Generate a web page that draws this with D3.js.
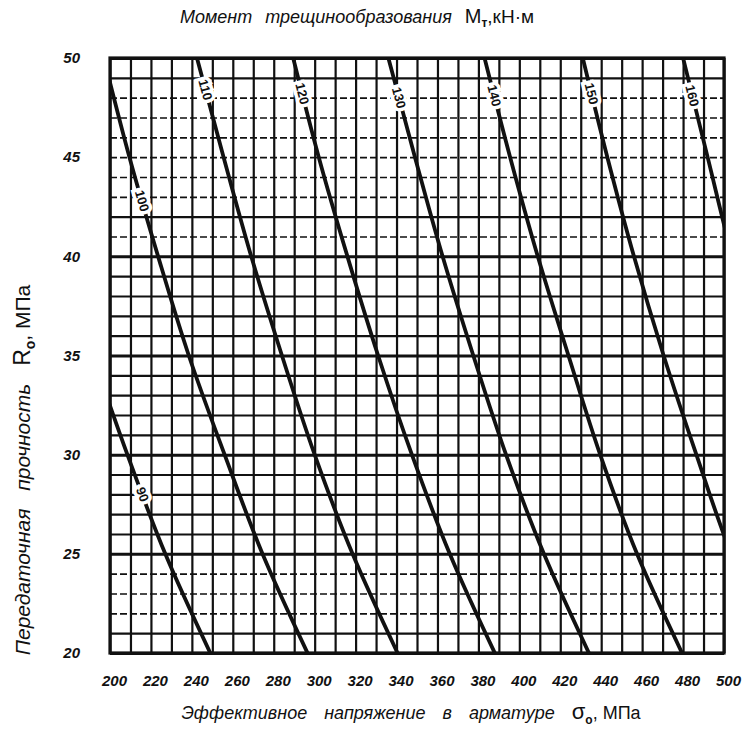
<!DOCTYPE html>
<html><head><meta charset="utf-8">
<script src="https://cdn.jsdelivr.net/npm/d3@7"></script>
<style>body{margin:0;background:#fff}</style>
</head><body>
<svg id="c" width="749" height="730"></svg>
<script>
// ---- data ----
const sigmaTicks = [200,220,240,260,280,300,320,340,360,380,400,420,440,460,480,500];
const rTicks = [20,25,30,35,40,45,50];
const sigmaGrid = [200,210,220,230,240,250,260,270,280,290,300,310,320,330,340,350,360,370,380,390,400,410,420,430,440,450,460,470,480,490,500];
const rGrid = [20,21,22,23,24,25,26,27,28,29,30,31,32,33,34,35,36,37,38,39,40,41,42,43,44,45,46,47,48,49,50];
const faintRows = [22,23,24,41,43,44,45,46,47,48];
// transfer strength levels at which each curve was read
const rLevels = [20,25,30,35,40,45,50];
// effective stress sigma_0 (MPa) of each cracking-moment curve at rLevels
const m90  = [249, 227, 208.5, 191.5, null, null, null];
const m100 = [296.5, 274.5, 256, 238.5, 223.5, 209.5, 197];
const m110 = [340.5, 318.5, 300, 284, 269, 255.5, 242.5];
const m120 = [388, 366, 347.5, 331, 316, 302, 289.5];
const m130 = [434, 412, 393.5, 377.5, 362.5, 349, 336];
const m140 = [479.5, 457.5, 439.5, 424, 409, 395.5, 383];
const m150 = [525, 503.5, 486.5, 470.5, 456, 443, 431];
const m160 = [null, null, null, 518, 504, 492, 480];
const moments = [90,100,110,120,130,140,150,160];
const labelR = [28, 42.8, 48.4, 48.2, 48, 48.1, 48.2, 48.1];
const curves = [m90,m100,m110,m120,m130,m140,m150,m160];

const svg = d3.select("#c");
const L = 110, R = 724, T = 58, B = 653;
const x = d3.scaleLinear([200,500],[L,R]);
const y = d3.scaleLinear([20,50],[B,T]);
const ink = "#111";

// vertical grid
const gx = svg.append("g").attr("transform",`translate(0,${B})`)
  .call(d3.axisBottom(x).tickValues(sigmaGrid).tickSize(-(B-T)).tickFormat(""));
gx.select(".domain").remove();
gx.selectAll("line").attr("stroke",ink).attr("stroke-width",2.2);

// horizontal grid
const gy = svg.append("g").attr("transform",`translate(${L},0)`)
  .call(d3.axisLeft(y).tickValues(rGrid).tickSize(-(R-L)).tickFormat(""));
gy.select(".domain").remove();
gy.selectAll("line").attr("stroke",ink)
  .attr("stroke-width",d => faintRows.includes(d) ? 1.7 : (d%5===0 ? 3 : 2.2))
  .attr("stroke-dasharray",d => faintRows.includes(d) ? "7,3" : null);

// frame
svg.append("rect").attr("x",L).attr("y",T).attr("width",R-L).attr("height",B-T)
  .attr("fill","none").attr("stroke",ink).attr("stroke-width",3.2);

// clip
svg.append("clipPath").attr("id","pc").append("rect")
  .attr("x",L).attr("y",T).attr("width",R-L).attr("height",B-T);

const line = d3.line()
  .defined(d => d[0] != null)
  .x(d => x(d[0])).y(d => y(d[1]))
  .curve(d3.curveMonotoneY);

const cg = svg.append("g").attr("clip-path","url(#pc)");
curves.forEach(c => {
  const pts = c.map((s,i) => [s, rLevels[i]]);
  cg.append("path").attr("d", line(pts)).attr("fill","none")
    .attr("stroke",ink).attr("stroke-width",3.8).attr("stroke-linecap","round");
});

// curve labels
curves.forEach((c,k) => {
  const r = labelR[k];
  let i = 0;
  while (i < rLevels.length-1 && !(rLevels[i] <= r && r <= rLevels[i+1])) i++;
  const t = (r - rLevels[i])/(rLevels[i+1]-rLevels[i]);
  const s = c[i] + t*(c[i+1]-c[i]);
  const px = x(s), py = y(r);
  const ang = Math.atan2(y(rLevels[i]) - y(rLevels[i+1]), x(c[i]) - x(c[i+1])) * 180/Math.PI;
  svg.append("text").attr("transform",`translate(${px},${py}) rotate(${ang})`)
    .attr("text-anchor","middle").attr("dy","0.35em")
    .attr("font-family","Liberation Sans, Arial, sans-serif").attr("font-weight","bold")
    .attr("font-size",13).attr("fill",ink)
    .attr("stroke","#fff").attr("stroke-width",7).attr("paint-order","stroke")
    .text(moments[k]);
});

// tick labels
const ax = svg.append("g").attr("transform",`translate(0,${B})`)
  .call(d3.axisBottom(x).tickValues(sigmaTicks).tickSize(0).tickPadding(22));
ax.select(".domain").remove();
ax.selectAll("text").attr("font-family","Liberation Sans, Arial, sans-serif")
  .attr("font-size",15).attr("font-weight","bold").attr("font-style","italic")
  .attr("fill",ink).attr("dx",4);

const ay = svg.append("g").attr("transform",`translate(${L},0)`)
  .call(d3.axisLeft(y).tickValues(rTicks).tickSize(0).tickPadding(30));
ay.select(".domain").remove();
ay.selectAll("text").attr("font-family","Liberation Sans, Arial, sans-serif")
  .attr("font-size",15).attr("font-weight","bold").attr("font-style","italic")
  .attr("fill",ink);

// titles
const ttl = svg.append("text").attr("x",357).attr("y",23).attr("text-anchor","middle")
  .attr("font-family","Liberation Sans, Arial, sans-serif").attr("fill",ink).attr("font-size",18);
ttl.append("tspan").attr("font-style","italic").attr("word-spacing",8).text("Момент трещинообразования ");
ttl.append("tspan").attr("font-size",20).text("M");
ttl.append("tspan").attr("font-size",12).attr("dy",4).attr("font-weight","bold").text("т");
ttl.append("tspan").attr("dy",-4).attr("font-size",19).text(",кН·м");

const xt = svg.append("text").attr("x",411).attr("y",719).attr("text-anchor","middle")
  .attr("font-family","Liberation Sans, Arial, sans-serif").attr("fill",ink).attr("font-size",18);
xt.append("tspan").attr("font-style","italic").attr("word-spacing",12).text("Эффективное напряжение в арматуре ");
xt.append("tspan").attr("font-size",22).text("σ");
xt.append("tspan").attr("font-size",12).attr("dy",5).attr("font-weight","bold").text("о");
xt.append("tspan").attr("dy",-5).text(", МПа");

const yt = svg.append("text").attr("transform","translate(30,470) rotate(-90)").attr("text-anchor","middle")
  .attr("font-family","Liberation Sans, Arial, sans-serif").attr("fill",ink).attr("font-size",21);
yt.append("tspan").attr("font-style","italic").attr("word-spacing",12).text("Передаточная прочность ");
yt.append("tspan").attr("font-size",23).text("R");
yt.append("tspan").attr("font-size",14).attr("dy",5).attr("font-weight","bold").text("о");
yt.append("tspan").attr("dy",-5).text(", МПа");
</script>
</body></html>
